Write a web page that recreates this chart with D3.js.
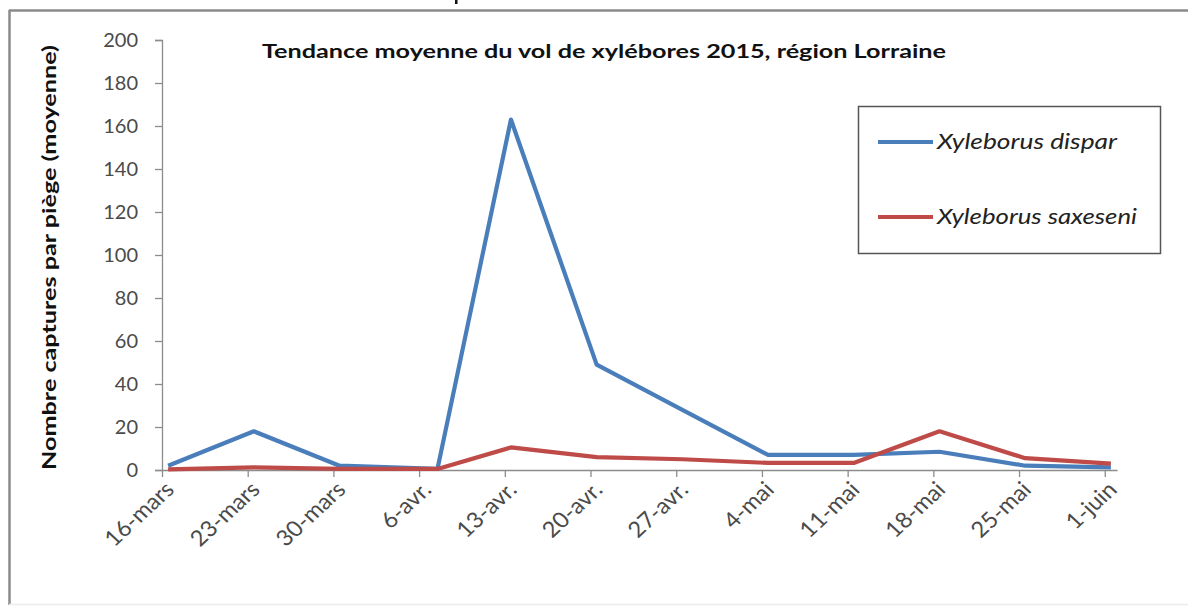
<!DOCTYPE html>
<html>
<head>
<meta charset="utf-8">
<script src="https://cdn.jsdelivr.net/npm/d3@7"></script>
<style>
  body { margin: 0; background: #fff; }
  svg { display: block; }
  .tick text { font-family: Lato, "Open Sans", sans-serif; fill: #4a4a4a; }
</style>
</head>
<body>
<div id="chart"></div>
<script>
// dates of the samples (x axis is a date axis in the original)
var sampleDates = ["2015-03-16", "2015-03-23", "2015-03-30", "2015-04-07", "2015-04-13", "2015-04-20",
                   "2015-04-27", "2015-05-04", "2015-05-11", "2015-05-18", "2015-05-25", "2015-06-01"];
var tickDates = ["2015-03-16", "2015-03-23", "2015-03-30", "2015-04-06", "2015-04-13", "2015-04-20",
                 "2015-04-27", "2015-05-04", "2015-05-11", "2015-05-18", "2015-05-25", "2015-06-01"];
var tickLabels = ["16-mars", "23-mars", "30-mars", "6-avr.", "13-avr.", "20-avr.",
                  "27-avr.", "4-mai", "11-mai", "18-mai", "25-mai", "1-juin"];
var dispar = [2, 18, 2, 0.5, 163, 49, 28, 7, 7, 8.5, 2, 1.2];
var saxeseni = [0.3, 1.2, 0.5, 0.5, 10.5, 6, 5, 3.3, 3.3, 18, 5.5, 3];
var yTicks = [0, 20, 40, 60, 80, 100, 120, 140, 160, 180, 200];

var seriesNames = ["Xyleborus dispar", "Xyleborus saxeseni"];
var colors = ["#4a7ebb", "#be4b48"];

var svgWidth = 1188;
var svgHeight = 607;

var parse = d3.utcParse("%Y-%m-%d");

var svg = d3.select("#chart")
    .append("svg")
    .attr("width", svgWidth)
    .attr("height", svgHeight);

// frame of the chart area
svg.append("line").attr("x1", 9.5).attr("y1", 10).attr("x2", 9.5).attr("y2", 605)
    .attr("stroke", "#8a8a8a").attr("stroke-width", 2.5);
svg.append("line").attr("x1", 9).attr("y1", 10.5).attr("x2", 1188).attr("y2", 10.5)
    .attr("stroke", "#8a8a8a").attr("stroke-width", 2.5);
svg.append("line").attr("x1", 9).attr("y1", 604.5).attr("x2", 1188).attr("y2", 604.5)
    .attr("stroke", "#ececec").attr("stroke-width", 1.5);

// bit of a letter from the page above, peeking in at the top edge
svg.append("rect").attr("x", 455).attr("y", 0).attr("width", 2.5).attr("height", 4)
    .attr("fill", "#111");

// scales
var xScale = d3.scaleUtc()
    .domain([parse("2015-03-16"), parse("2015-06-02")])
    .range([162, 1117]);

var yScale = d3.scaleLinear()
    .domain([0, 200])
    .range([470, 40]);

// half-day shift: points sit in the middle of their day
var xPoint = function(s) {
    return xScale(d3.utcHour.offset(parse(s), 12));
};

// y axis
var yAxis = d3.axisLeft(yScale)
    .tickValues(yTicks)
    .tickSize(7)
    .tickPadding(17);

var yG = svg.append("g")
    .attr("transform", "translate(162,0)")
    .call(yAxis);
yG.select(".domain").attr("stroke", "#8c8c8c").attr("stroke-width", 1.3);
yG.selectAll(".tick line").attr("stroke", "#8c8c8c").attr("stroke-width", 1.3);
yG.selectAll(".tick text").attr("font-size", 20);

// x axis
var xAxis = d3.axisBottom(xScale)
    .tickValues(tickDates.map(parse))
    .tickFormat(function(d, i) { return tickLabels[i]; })
    .tickSize(7)
    .tickSizeOuter(0);

var xG = svg.append("g")
    .attr("transform", "translate(0,470)")
    .call(xAxis);
xG.select(".domain").attr("stroke", "#8c8c8c").attr("stroke-width", 1.3);
xG.selectAll(".tick line").attr("stroke", "#8c8c8c").attr("stroke-width", 1.3);
xG.selectAll(".tick text")
    .attr("font-size", 22)
    .attr("text-anchor", "end")
    .attr("x", 0).attr("y", 0).attr("dy", 0)
    .attr("transform", "translate(13,21) scale(1.08,1) rotate(-45)");

// lines
var data = [dispar, saxeseni];
var line = d3.line()
    .x(function(d, i) { return xPoint(sampleDates[i]); })
    .y(function(d) { return yScale(d); });

svg.selectAll(".series")
    .data(data)
    .enter()
    .append("path")
    .attr("class", "series")
    .attr("d", function(d) { return line(d); })
    .attr("fill", "none")
    .attr("stroke", function(d, i) { return colors[i]; })
    .attr("stroke-width", 4.2)
    .attr("stroke-linejoin", "round");

// title
svg.append("text")
    .attr("x", 262).attr("y", 58)
    .attr("font-family", "Lato, sans-serif")
    .attr("font-weight", "bold")
    .attr("font-size", 19)
    .attr("fill", "#111")
    .attr("textLength", 684)
    .attr("lengthAdjust", "spacingAndGlyphs")
    .text("Tendance moyenne du vol de xylébores 2015, région Lorraine");

// y axis title
svg.append("text")
    .attr("transform", "translate(56,470) rotate(-90)")
    .attr("font-family", "Lato, sans-serif")
    .attr("font-weight", "bold")
    .attr("font-size", 19)
    .attr("fill", "#111")
    .attr("textLength", 425)
    .attr("lengthAdjust", "spacingAndGlyphs")
    .text("Nombre captures par piège (moyenne)");

// legend
var legend = svg.append("g");
legend.append("rect")
    .attr("x", 858.5).attr("y", 106.5)
    .attr("width", 302).attr("height", 147)
    .attr("fill", "#fff")
    .attr("stroke", "#555").attr("stroke-width", 1.5);

var legWidths = [180, 200];

var legItems = legend.selectAll(".leg")
    .data(seriesNames)
    .enter()
    .append("g")
    .attr("transform", function(d, i) { return "translate(0," + (142 + i * 75) + ")"; });

legItems.append("line")
    .attr("x1", 878).attr("x2", 933)
    .attr("stroke", function(d, i) { return colors[i]; })
    .attr("stroke-width", 4.2);

legItems.append("text")
    .attr("x", 937).attr("y", 7)
    .attr("font-family", "Lato, sans-serif")
    .attr("font-style", "italic")
    .attr("font-size", 21)
    .attr("fill", "#222")
    .attr("textLength", function(d, i) { return legWidths[i]; })
    .attr("lengthAdjust", "spacingAndGlyphs")
    .text(function(d) { return d; });
</script>
</body>
</html>
